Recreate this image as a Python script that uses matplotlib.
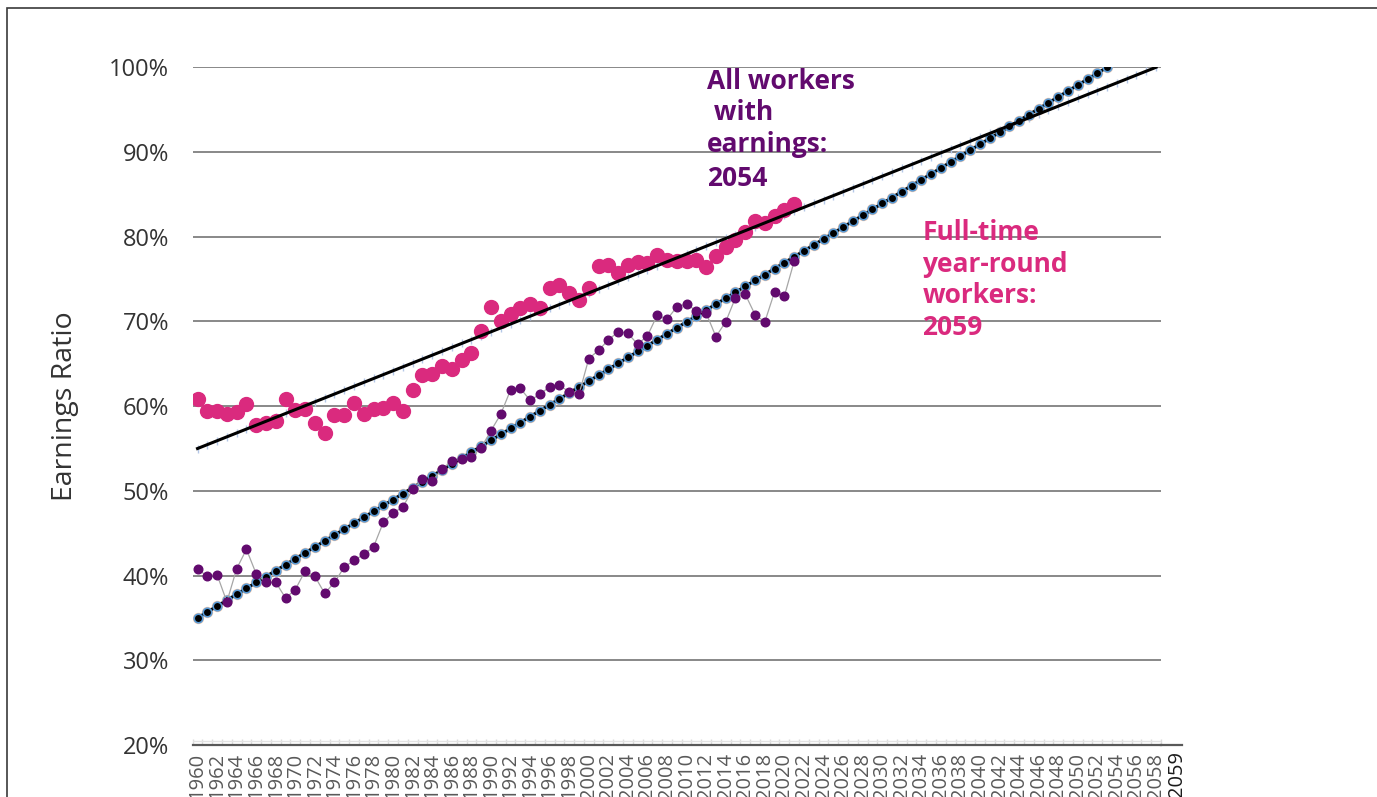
import numpy as np
import matplotlib.pyplot as plt
from matplotlib.patches import Rectangle
from matplotlib.ticker import FuncFormatter, MultipleLocator
import matplotlib.transforms as mtransforms

# data (percent of men's earnings)
years = list(range(1960, 2022))
full_time = [60.9, 59.45, 59.45, 59.1, 59.3, 60.2, 57.8, 58.0, 58.3, 60.8,
             59.6, 59.7, 58.0, 56.8, 59.0, 59.0, 60.35, 59.1, 59.7, 59.8,
             60.35, 59.45, 61.9, 63.7, 63.8, 64.7, 64.4, 65.4, 66.3, 68.85,
             71.7, 70.0, 70.9, 71.6, 72.1, 71.55, 73.9, 74.3, 73.3, 72.5,
             73.9, 76.6, 76.7, 75.7, 76.7, 77.0, 76.9, 77.9, 77.2, 77.1,
             77.1, 77.2, 76.4, 77.75, 78.8, 79.6, 80.6, 81.8, 81.6, 82.5,
             83.2, 83.9]
all_workers = [40.8, 39.9, 40.1, 36.9, 40.8, 43.1, 40.2, 39.2, 39.2, 37.35,
               38.35, 40.55, 39.9, 37.9, 39.2, 41.0, 41.8, 42.5, 43.4, 46.3,
               47.4, 48.1, 50.2, 51.35, 51.15, 52.6, 53.5, 53.75, 54.0, 55.1,
               57.1, 59.05, 61.9, 62.1, 60.7, 61.4, 62.3, 62.45, 61.7, 61.4,
               65.6, 66.6, 67.8, 68.8, 68.6, 67.3, 68.3, 70.75, 70.25, 71.7,
               72.1, 71.2, 71.0, 68.2, 69.95, 72.8, 73.2, 70.8, 69.95, 73.5,
               73.0, 77.1]

# linear trend lines (start / end points as drawn)
ft_trend_years = [1960, 2058]
ft_trend_vals = [55.0, 100.0]
aw_trend_years = [1960, 2053]
aw_trend_vals = [35.0, 100.0]

axis_years = list(range(1960, 2059))
tick_years = list(range(1960, 2059, 2))

PINK = '#DA2A7E'
PURPLE = '#620A6E'

plt.rcParams['font.family'] = ['Open Sans', 'DejaVu Sans']

fig = plt.figure(figsize=(13.77, 7.97), dpi=100)
ax = fig.add_axes([0.1399, 0.0652, 0.7032, 0.8504])

# outer frame
fig.patches.append(Rectangle((7 / 1377, -0.1), 1.2, 1.1 - 8 / 797, fill=False,
                             edgecolor='#3a3a3a', lw=1.2, transform=fig.transFigure))

# full-time trend: line with small year ticks
ft_x = [y for y in axis_years if y <= ft_trend_years[1]]
ft_y = np.interp(ft_x, ft_trend_years, ft_trend_vals)
ax.plot(ft_x, ft_y, ls='none', marker='|', ms=6, mew=1, color='#b4c7e7', zorder=2)
ax.plot(years, full_time, 'o', ms=10, color=PINK, zorder=3)
ax.plot(ft_trend_years, ft_trend_vals, color='black', lw=2.2, zorder=4)

# all workers trend: dotted trend with blue-edged black markers
aw_x = [y for y in axis_years if y <= aw_trend_years[1]]
aw_y = np.interp(aw_x, aw_trend_years, aw_trend_vals)
ax.plot(aw_x, aw_y, ls='none', marker='o', ms=7.2, color='#f8cbad', zorder=2.5)
ax.plot(aw_x, aw_y, color='black', lw=2.2, marker='o', ms=6.2, mfc='black',
        mec='#5b9bd5', mew=1.2, zorder=3)
ax.plot(years, all_workers, color='#a6a6a6', lw=0.9, zorder=5)
ax.plot(years, all_workers, 'o', ms=6.2, color=PURPLE, zorder=6)

ax.set_xlim(1959.5, 2058.5)
ax.set_ylim(20, 100)
ax.yaxis.set_major_locator(MultipleLocator(10))
ax.yaxis.set_major_formatter(FuncFormatter(lambda v, p: '%d%%' % v))
ax.grid(axis='y', color='#7f7f7f', lw=1.3)
ax.set_axisbelow(True)

for s in ['top', 'right', 'left']:
    ax.spines[s].set_visible(False)
ax.spines['bottom'].set_color('#595959')
ax.spines['bottom'].set_linewidth(1.6)
ax.plot([2058.5, 2060.7], [20, 20], color='#595959', lw=1.6, clip_on=False, zorder=6)
ax.axhline(20.47, color='#e3e3e3', lw=1, zorder=1)

ax.set_xticks(tick_years)
ax.set_xticklabels([str(y) for y in tick_years], rotation=90)
ax.set_xticks([y - 0.5 for y in axis_years] + [2058.5], minor=True)
ax.tick_params(axis='x', which='major', length=0, pad=6, labelsize=14.5, labelcolor='#595959')
ax.tick_params(axis='x', which='minor', direction='in', length=4, color='#dcdcdc', width=1)
ax.tick_params(axis='y', length=0, pad=17, labelsize=17, labelcolor='#333333')

trans = mtransforms.blended_transform_factory(ax.transData, ax.transAxes)
ax.text(2060.1, -0.0085, '2059', rotation=90, ha='center', va='top', fontsize=14.5,
        color='#1a1a1a', transform=trans)

fig.text(0.047, 0.49, 'Earnings Ratio', rotation=90, ha='center', va='center',
         fontsize=20.5, color='#333333')

# annotations
for txt, yv in [('All workers', 97.45), (' with', 93.8), ('earnings:', 90.0), ('2054', 86.0)]:
    ax.text(2012.1, yv, txt, color=PURPLE, fontsize=19, fontweight='bold',
            ha='left', va='baseline', zorder=7)
for txt, yv in [('Full-time', 79.6), ('year-round', 75.85), ('workers:', 72.2), ('2059', 68.4)]:
    ax.text(2034.1, yv, txt, color=PINK, fontsize=19, fontweight='bold',
            ha='left', va='baseline', zorder=7)

fig.savefig('out.png', dpi=100)
